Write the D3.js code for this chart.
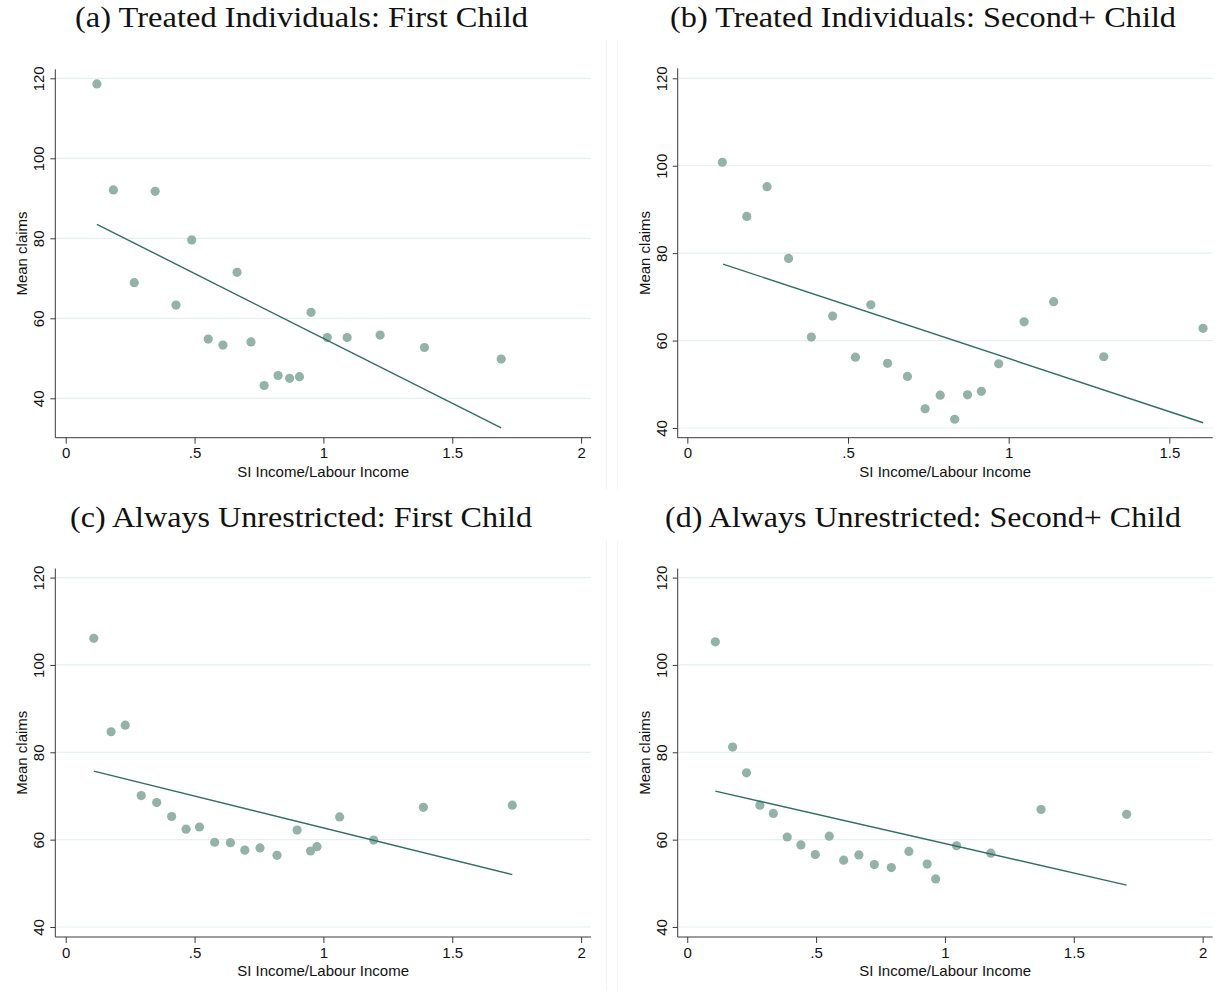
<!DOCTYPE html>
<html>
<head>
<meta charset="utf-8">
<script src="https://cdn.jsdelivr.net/npm/d3@7"></script>
<style>
  html, body { margin: 0; padding: 0; background: #fff; }
  svg { display: block; }
</style>
</head>
<body>
<svg id="chart" width="1225" height="992"></svg>
<script>
// ---- Data: binned mean claims vs SI income / labour income ratio ----
const panelTitles = [
  "(a) Treated Individuals: First Child",
  "(b) Treated Individuals: Second+ Child",
  "(c) Always Unrestricted: First Child",
  "(d) Always Unrestricted: Second+ Child"
];

const ratioA  = [0.121, 0.185, 0.266, 0.347, 0.428, 0.489, 0.553, 0.610, 0.665, 0.719, 0.770, 0.824, 0.869, 0.907, 0.952, 1.015, 1.092, 1.220, 1.392, 1.690];
const claimsA = [118.6, 92.1, 68.9, 91.75, 63.3, 79.6, 54.8, 53.3, 71.5, 54.1, 43.2, 45.7, 45.0, 45.4, 61.5, 55.2, 55.2, 55.8, 52.7, 49.8];

const ratioB  = [0.109, 0.185, 0.248, 0.315, 0.386, 0.452, 0.523, 0.571, 0.623, 0.685, 0.740, 0.787, 0.832, 0.872, 0.915, 0.969, 1.048, 1.140, 1.296, 1.605];
const claimsB = [100.8, 88.4, 95.2, 78.8, 60.8, 65.6, 56.2, 68.2, 54.8, 51.8, 44.4, 47.5, 42.0, 47.6, 48.4, 54.7, 64.3, 68.9, 56.3, 62.8];

const ratioC  = [0.109, 0.176, 0.231, 0.293, 0.353, 0.411, 0.467, 0.519, 0.578, 0.639, 0.695, 0.754, 0.820, 0.898, 0.950, 0.975, 1.063, 1.195, 1.388, 1.733];
const claimsC = [106.1, 84.7, 86.2, 70.1, 68.5, 65.3, 62.4, 62.9, 59.4, 59.3, 57.6, 58.1, 56.4, 62.2, 57.4, 58.4, 65.2, 59.9, 67.4, 67.9];

const ratioD  = [0.109, 0.176, 0.230, 0.282, 0.334, 0.388, 0.441, 0.497, 0.551, 0.607, 0.666, 0.726, 0.792, 0.860, 0.931, 0.964, 1.045, 1.178, 1.373, 1.705];
const claimsD = [105.3, 81.2, 75.3, 67.9, 66.0, 60.6, 58.8, 56.6, 60.8, 55.3, 56.5, 54.3, 53.6, 57.3, 54.4, 51.0, 58.6, 56.9, 66.9, 65.8];

// Linear fit endpoints per panel: [x0, y0, x1, y1]
const fitA = [0.121, 83.5, 1.690, 32.6];
const fitB = [0.111, 77.5, 1.605, 41.2];
const fitC = [0.109, 75.7, 1.733, 52.0];
const fitD = [0.109, 71.1, 1.705, 49.6];

const xTicksWide   = [0, 0.5, 1, 1.5, 2];
const xTicksNarrow = [0, 0.5, 1, 1.5];
const yTicks       = [40, 60, 80, 100, 120];

const xAxisTitle = "SI Income/Labour Income";
const yAxisTitle = "Mean claims";

// ---- Layout ----
const panels = [
  { title: panelTitles[0], x: ratioA, y: claimsA, fit: fitA, xTicks: xTicksWide,
    left: 55.3, right: 591, top: 69.3, bottom: 437.7, xDom: [-0.0404, 2.0384], yDom: [30.15, 122.25],
    titleX: 301.5, titleY: 27, titleW: 453 },
  { title: panelTitles[1], x: ratioB, y: claimsB, fit: fitB, xTicks: xTicksNarrow,
    left: 677.7, right: 1212.7, top: 68.3, bottom: 437.7, xDom: [-0.030, 1.635], yDom: [37.78, 122.29],
    titleX: 923, titleY: 27, titleW: 506 },
  { title: panelTitles[2], x: ratioC, y: claimsC, fit: fitC, xTicks: xTicksWide,
    left: 55.3, right: 591, top: 568.5, bottom: 937, xDom: [-0.0404, 2.0384], yDom: [37.71, 122.08],
    titleX: 301, titleY: 527, titleW: 462 },
  { title: panelTitles[3], x: ratioD, y: claimsD, fit: fitD, xTicks: xTicksWide,
    left: 677.7, right: 1212.7, top: 568.5, bottom: 937, xDom: [-0.037, 2.039], yDom: [37.71, 122.08],
    titleX: 923, titleY: 527, titleW: 516 }
];

const markerColor = "#93b2a8";
const fitColor = "#2f6e62";
const gridColor = "#e6eff1";
const axisColor = "#3a3a3a";
const sansFont = "'Liberation Sans', Arial, sans-serif";
const serifFont = "'Liberation Serif', 'DejaVu Serif', serif";

const svg = d3.select("#chart");

// faint separators between combined graph regions
[[40, 490], [540, 990]].forEach(([y1, y2]) => {
  svg.append("line").attr("x1", 606.5).attr("x2", 606.5).attr("y1", y1).attr("y2", y2)
    .attr("stroke", "#f3f3f3").attr("stroke-width", 1);
  svg.append("line").attr("x1", 617.5).attr("x2", 617.5).attr("y1", y1).attr("y2", y2)
    .attr("stroke", "#f5f5f5").attr("stroke-width", 1);
});

panels.forEach(p => {
  const g = svg.append("g");
  const xs = d3.scaleLinear().domain(p.xDom).range([p.left, p.right]);
  const ys = d3.scaleLinear().domain(p.yDom).range([p.bottom, p.top]);

  // title
  g.append("text")
    .attr("x", p.titleX).attr("y", p.titleY)
    .attr("text-anchor", "middle")
    .attr("font-family", serifFont)
    .attr("font-size", 29)
    .attr("textLength", p.titleW)
    .attr("lengthAdjust", "spacingAndGlyphs")
    .attr("fill", "#111")
    .text(p.title);

  // horizontal gridlines
  g.selectAll("line.grid").data(yTicks).join("line")
    .attr("class", "grid")
    .attr("x1", p.left + 1).attr("x2", p.right)
    .attr("y1", d => ys(d)).attr("y2", d => ys(d))
    .attr("stroke", gridColor).attr("stroke-width", 1.2);

  // y axis
  const yAxis = d3.axisLeft(ys).tickValues(yTicks).tickSize(5).tickPadding(5).tickFormat(d3.format("d"));
  const ya = g.append("g").attr("transform", `translate(${p.left},0)`).call(yAxis);
  ya.select(".domain").attr("stroke", axisColor).attr("d", `M0,${p.top}V${p.bottom}`);
  ya.selectAll(".tick line").attr("stroke", axisColor);
  ya.selectAll(".tick text")
    .attr("font-family", sansFont).attr("font-size", 15).attr("fill", "#111")
    .attr("text-anchor", "middle")
    .attr("x", 0).attr("y", 0).attr("dy", 0)
    .attr("transform", "translate(-11,0) rotate(-90)");

  // x axis
  const fmtX = d => d === 0 ? "0" : (d % 1 === 0 ? String(d) : String(d).replace(/^0/, ""));
  const xAxis = d3.axisBottom(xs).tickValues(p.xTicks).tickSize(6).tickPadding(4).tickFormat(fmtX);
  const xa = g.append("g").attr("transform", `translate(0,${p.bottom})`).call(xAxis);
  xa.select(".domain").attr("stroke", axisColor).attr("d", `M${p.left},0H${p.right}`);
  xa.selectAll(".tick line").attr("stroke", axisColor);
  xa.selectAll(".tick text")
    .attr("font-family", sansFont).attr("font-size", 15).attr("fill", "#111");

  // axis titles
  g.append("text")
    .attr("x", (p.left + p.right) / 2).attr("y", p.bottom + 39)
    .attr("text-anchor", "middle")
    .attr("font-family", sansFont).attr("font-size", 15).attr("fill", "#111")
    .text(xAxisTitle);
  g.append("text")
    .attr("transform", `translate(${p.left - 28},${(p.top + p.bottom) / 2}) rotate(-90)`)
    .attr("text-anchor", "middle")
    .attr("font-family", sansFont).attr("font-size", 15).attr("fill", "#111")
    .text(yAxisTitle);

  // scatter markers
  const pts = p.x.map((v, i) => ({ x: v, y: p.y[i] }));
  g.selectAll("circle").data(pts).join("circle")
    .attr("cx", d => xs(d.x)).attr("cy", d => ys(d.y))
    .attr("r", 4.6)
    .attr("fill", markerColor);

  // linear fit
  const fitPts = [[p.fit[0], p.fit[1]], [p.fit[2], p.fit[3]]];
  g.append("path")
    .attr("d", d3.line().x(d => xs(d[0])).y(d => ys(d[1]))(fitPts))
    .attr("fill", "none").attr("stroke", fitColor).attr("stroke-width", 1.4);
});
</script>
</body>
</html>
